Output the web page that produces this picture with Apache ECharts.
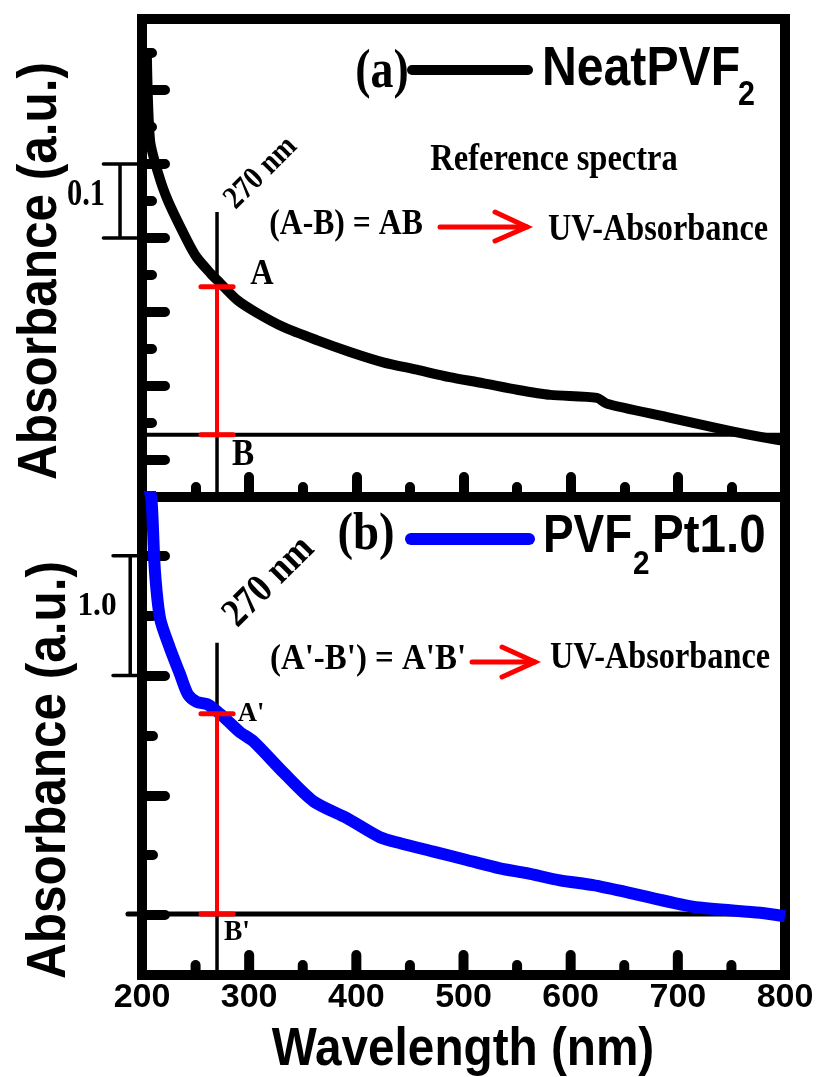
<!DOCTYPE html>
<html>
<head>
<meta charset="utf-8">
<script src="https://cdn.jsdelivr.net/npm/echarts@6/dist/echarts.min.js"></script>
<style>
  html, body { margin: 0; padding: 0; background: #fff; }
  #chart { width: 823px; height: 1077px; }
</style>
</head>
<body>
<div id="chart"></div>
<script>
// ---- Spectra (wavelength in nm, absorbance in a.u.) ----
const neatWavelength = [204.5, 207.5, 215, 224, 242, 251, 263.5, 273, 289, 307, 331.5, 363, 394, 425, 456.5, 487, 518, 550, 581, 624.5, 634, 690, 736.5, 767, 794, 800];
const neatAbsorbance = [0.600, 0.482, 0.438, 0.401, 0.347, 0.324, 0.303, 0.289, 0.266, 0.249, 0.230, 0.212, 0.196, 0.182, 0.172, 0.162, 0.154, 0.145, 0.138, 0.134, 0.126, 0.108, 0.093, 0.084, 0.077, 0.076];

const ptWavelength = [206, 209, 212, 217, 226, 235.5, 243, 251, 261, 270, 279, 291, 304, 332, 360, 391, 422, 441, 472, 503, 534, 559, 590, 621, 653, 714, 777, 800];
const ptAbsorbance = [4.10, 3.95, 3.38, 2.97, 2.73, 2.51, 2.34, 2.28, 2.26, 2.20, 2.13, 2.03, 1.95, 1.69, 1.45, 1.31, 1.15, 1.10, 1.03, 0.96, 0.89, 0.85, 0.79, 0.75, 0.69, 0.57, 0.52, 0.49];

// ---- Read-out at 270 nm: A = curve, B = baseline ----
const markerWavelength = 270;
const neatA = 0.284, neatB = 0.084, neatGuideTop = 0.385;
const ptA = 2.18, ptB = 0.51, ptGuideTop = 2.774;

// ---- Axes ----
const wavelengthMin = 200, wavelengthMax = 800;
const wavelengthLabels = [200, 300, 400, 500, 600, 700, 800];
const wavelengthLongTicks = [300, 400, 500, 600, 700];
const wavelengthShortTicks = [250, 350, 450, 550, 650, 750];
const neatYMax = 0.646, ptYMax = 3.99;
const neatShortTicks = [0.1, 0.2, 0.3, 0.4, 0.5, 0.6];
const neatLongTicks = [0.05, 0.15, 0.25, 0.35, 0.45, 0.55];
const ptShortTicks = [1, 2, 3];
const ptLongTicks = [0.5, 1.5, 2.5, 3.5];

// scale bars (value span drawn at the left of each panel)
const neatScaleBar = { x: 179.5, capFrom: 164, capTo: 195, lo: 0.35, hi: 0.45 };
const ptScaleBar = { x: 189, capFrom: 173, capTo: 195, lo: 2.5, hi: 3.5 };
const ptBaselineExtent = [186.9, 786];

// panel frame (pixels)
const PANEL_LEFT = 142, PANEL_WIDTH = 643, PANEL_HEIGHT = 478, PANEL_TOP = [19, 497];

const SERIF = "'Liberation Serif','Times New Roman',serif";
const SANS = "'Liberation Sans',Arial,sans-serif";

const zip = (xs, ys) => xs.map((x, i) => [x, ys[i]]);

// x axes: [0] panel a long ticks, [1] panel a short ticks, [2] panel b labels
const X_MAIN = [0, 2];

function segment(points, grid, color, width, opts) {
  opts = opts || {};
  return {
    type: 'line', xAxisIndex: X_MAIN[grid], yAxisIndex: grid * 2,
    data: points, showSymbol: false, symbol: 'none', silent: true,
    clip: opts.clip !== undefined ? opts.clip : true,
    z: opts.z || 3, animation: false,
    lineStyle: { color: color, width: width, cap: opts.cap || 'butt', join: 'round' }
  };
}

// wavelength ticks of panel (b), each a short upright stroke from the bottom frame;
// the pixel length is expressed in absorbance units of that panel
function bottomTickSeries(values, lenPx) {
  const h = lenPx * ptYMax / PANEL_HEIGHT;
  return values.map(v => segment([[v, 0], [v, h]], 1, '#000', 10, { z: 6, cap: 'round', clip: false }));
}

function xAxisFor(grid, ticks, len, showLabels) {
  return {
    type: 'value', gridIndex: grid, position: 'bottom', offset: 0,
    min: wavelengthMin, max: wavelengthMax,
    axisLine: { show: false, onZero: false },
    axisTick: { show: !!ticks, inside: true, length: len, customValues: ticks || [],
                lineStyle: { color: '#000', width: 10, cap: 'round' } },
    splitLine: { show: false },
    axisLabel: {
      show: showLabels, customValues: wavelengthLabels, hideOverlap: false,
      color: '#000', fontFamily: SANS, fontWeight: 'bold', fontSize: 34, margin: 6
    }
  };
}

function yAxisFor(grid, max, ticks, len) {
  return {
    type: 'value', gridIndex: grid, min: 0, max: max, position: 'left', offset: 0,
    axisLine: { show: false, onZero: false }, splitLine: { show: false }, axisLabel: { show: false },
    axisTick: { show: true, inside: true, length: len, customValues: ticks,
                lineStyle: { color: '#000', width: 10, cap: 'round' } }
  };
}

function label(text, x, y, size, family, sx, opt) {
  opt = opt || {};
  const align = opt.align || 'center';
  return {
    type: 'text', x: x, y: y, rotation: opt.rot || 0, scaleX: sx, z: 20,
    style: {
      text: text, font: 'bold ' + size + 'px ' + family, fill: opt.color || '#000',
      align: align, verticalAlign: 'middle', textAlign: align, textVerticalAlign: 'middle'
    }
  };
}

function stroke(points, color, width, join, cap) {
  return {
    type: 'polyline', z: 20, shape: { points: points },
    style: { stroke: color, lineWidth: width, lineCap: cap || 'round', lineJoin: join || 'round', fill: null }
  };
}

const chart = echarts.init(document.getElementById('chart'), null, { renderer: 'canvas' });

chart.setOption({
  animation: false,
  backgroundColor: '#fff',
  grid: PANEL_TOP.map(top => ({
    left: PANEL_LEFT, top: top, width: PANEL_WIDTH, height: PANEL_HEIGHT,
    show: true, borderColor: '#000', borderWidth: 10, backgroundColor: 'transparent'
  })),
  xAxis: [
    xAxisFor(0, wavelengthLongTicks, 20, false),
    xAxisFor(0, wavelengthShortTicks, 10, false),
    xAxisFor(1, null, 0, true)
  ],
  yAxis: [
    yAxisFor(0, neatYMax, neatShortTicks, 10),
    yAxisFor(0, neatYMax, neatLongTicks, 23),
    yAxisFor(1, ptYMax, ptShortTicks, 11),
    yAxisFor(1, ptYMax, ptLongTicks, 23)
  ],
  series: [].concat(
    [
      // panel (a): guide line at 270 nm and baseline B
      segment([[markerWavelength, neatGuideTop], [markerWavelength, 0]], 0, '#000', 3.5),
      segment([[wavelengthMin, neatB], [wavelengthMax, neatB]], 0, '#000', 4),
      {
        name: 'NeatPVF2', type: 'line', xAxisIndex: X_MAIN[0], yAxisIndex: 0,
        data: zip(neatWavelength, neatAbsorbance), showSymbol: false, symbol: 'none',
        smooth: 0.25, z: 4, animation: false,
        lineStyle: { color: '#000', width: 10, cap: 'round', join: 'round' }
      },
      segment([[markerWavelength, neatA], [markerWavelength, neatB]], 0, '#ff0000', 4, { z: 5 }),
      segment([[markerWavelength - 15, neatA], [markerWavelength + 15, neatA]], 0, '#ff0000', 5, { z: 5, cap: 'round' }),
      segment([[markerWavelength - 15, neatB], [markerWavelength + 15, neatB]], 0, '#ff0000', 5, { z: 5, cap: 'round' }),

      // panel (b)
      segment([[markerWavelength, ptGuideTop], [markerWavelength, 0]], 1, '#000', 3.5),
      {
        name: 'PVF2Pt1.0', type: 'line', xAxisIndex: X_MAIN[1], yAxisIndex: 2,
        data: zip(ptWavelength, ptAbsorbance), showSymbol: false, symbol: 'none',
        smooth: 0.25, z: 4, animation: false,
        lineStyle: { color: '#0000ff', width: 12, cap: 'butt', join: 'round' }
      },
      segment([[markerWavelength, ptA], [markerWavelength, ptB]], 1, '#ff0000', 4, { z: 5 }),
      segment([[markerWavelength - 15, ptA], [markerWavelength + 15, ptA]], 1, '#ff0000', 5, { z: 5, cap: 'round' }),
      segment([[markerWavelength - 15, ptB], [markerWavelength + 15, ptB]], 1, '#ff0000', 5, { z: 5, cap: 'round' })
    ],
    bottomTickSeries(wavelengthLongTicks, 20),
    bottomTickSeries(wavelengthShortTicks, 10)
  )
});

// Marks that reach past the plot frame (scale bars, B' baseline) are placed
// through the axes' own data-to-pixel conversion.
function px(grid, x, y) {
  return chart.convertToPixel({ xAxisIndex: X_MAIN[grid], yAxisIndex: grid * 2 }, [x, y]);
}
function scaleBar(grid, bar) {
  return [
    stroke([px(grid, bar.x, bar.lo), px(grid, bar.x, bar.hi)], '#000', 3.5, 'round', 'butt'),
    stroke([px(grid, bar.capFrom, bar.lo), px(grid, bar.capTo, bar.lo)], '#000', 3.5),
    stroke([px(grid, bar.capFrom, bar.hi), px(grid, bar.capTo, bar.hi)], '#000', 3.5)
  ];
}

const overlay = [].concat(
  scaleBar(0, neatScaleBar),
  scaleBar(1, ptScaleBar),
  [Object.assign(stroke([px(1, ptBaselineExtent[0], ptB), px(1, ptBaselineExtent[1], ptB)], '#000', 5), { z: 1 })],
  [
    // axis titles
    label('Absorbance (a.u.)', 41, 271, 55, SANS, 0.9, { rot: Math.PI / 2 }),
    label('Absorbance (a.u.)', 50, 770, 55, SANS, 0.9, { rot: Math.PI / 2 }),
    label('Wavelength (nm)', 463, 1050, 53, SANS, 0.9),

    // panel (a) key and notes
    label('(a)', 382, 73, 54, SERIF, 0.85),
    stroke([[412, 70], [528, 70]], '#000', 10),
    label('NeatPVF', 542, 70, 56, SANS, 0.86, { align: 'left' }),
    label('2', 738, 95, 35, SANS, 0.87, { align: 'left' }),
    label('Reference spectra', 554, 160, 38, SERIF, 0.855),
    label('(A-B) = AB', 346, 225, 36, SERIF, 0.88),
    stroke([[440, 227], [527, 227]], '#ff0000', 5),
    stroke([[495, 212], [527, 227], [495, 241]], '#ff0000', 5, 'miter'),
    label('UV-Absorbance', 658, 230, 38, SERIF, 0.85),
    label('270 nm', 261, 173, 32, SERIF, 0.88, { rot: Math.PI / 4 }),
    label('A', 262, 275, 36, SERIF, 0.9),
    label('B', 243, 455, 37, SERIF, 0.9),
    label('0.1', 86, 195, 37, SERIF, 0.82),

    // panel (b) key and notes
    label('(b)', 366, 536, 52, SERIF, 0.9),
    stroke([[411, 539], [529, 539]], '#0000ff', 12),
    label('PVF', 543, 537, 54, SANS, 0.85, { align: 'left' }),
    label('2', 633, 565, 33, SANS, 0.9, { align: 'left' }),
    label('Pt1.0', 652, 537, 54, SANS, 0.88, { align: 'left' }),
    label("(A'-B') = A'B'", 368, 660, 35, SERIF, 0.94),
    stroke([[472, 662], [535, 662]], '#ff0000', 5),
    stroke([[502, 647], [535, 662], [502, 677]], '#ff0000', 5, 'miter'),
    label('UV-Absorbance', 660, 658, 38, SERIF, 0.85),
    label('270 nm', 269, 582, 40, SERIF, 0.88, { rot: Math.PI / 4 }),
    label("A'", 251, 714, 28, SERIF, 0.95),
    label("B'", 237, 933, 29, SERIF, 0.95),
    label('1.0', 97, 606, 33, SERIF, 0.95)
  ]
);

chart.setOption({ graphic: overlay });
</script>
</body>
</html>
